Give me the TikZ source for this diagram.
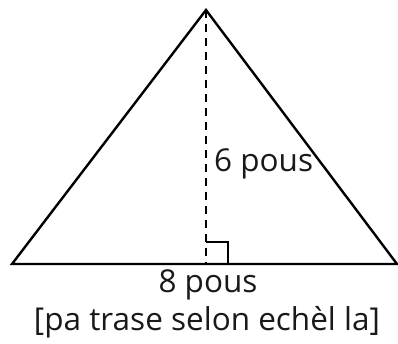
\documentclass[tikz,border=0pt]{standalone}
\usepackage{fontspec}
\setmainfont{Open Sans}
\usetikzlibrary{calc}
\begin{document}
\begin{tikzpicture}[x=1pt,y=-1pt,
  side/.style={line width=2.4pt,line join=miter},
  alt/.style={line width=1.4pt,dash pattern=on 8pt off 6pt},
  rtmark/.style={line width=1.4pt},
  lbl/.style={inner sep=0pt,font=\fontsize{31.5}{36}\selectfont,text=black!90}]
\useasboundingbox (0,0) rectangle (398,344);
\coordinate (A) at (12,264);
\coordinate (B) at (397,264);
\coordinate (C) at (206,10);
\coordinate (H) at (206,264);
\draw[side] (A) -- (B) -- (C) -- cycle;
\draw[alt] (C) -- (H);
\draw[rtmark] ($(H)+(0,-22)$) -- ++(22,0) -- ++(0,22);
\node[lbl,anchor=base west] (h) at (214,172) {6 pous};
\node[lbl,anchor=base] (b) at (208,292) {8 pous};
\node[lbl,anchor=base] (n) at (207,330) {[pa trase selon echèl la]};
\end{tikzpicture}
\end{document}
